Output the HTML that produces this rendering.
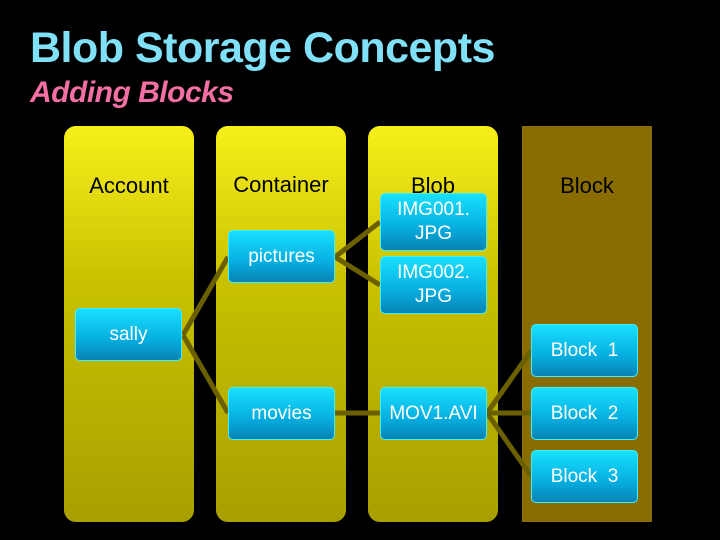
<!DOCTYPE html>
<html><head><style>
body{margin:0;width:720px;height:540px;background:#000;position:relative;overflow:hidden;font-family:"Liberation Sans",sans-serif}
.t1{position:absolute;left:30px;top:24px;font-size:43px;font-weight:bold;color:#7fe0f8;letter-spacing:-0.5px}
.t2{position:absolute;left:30px;top:76px;font-size:30px;font-weight:bold;font-style:italic;color:#f46fa4;letter-spacing:-0.5px}
.col{position:absolute;top:126px;width:130px;height:396px;border-radius:12px;background:linear-gradient(#f8f01a,#c8c000 40%,#a8a000)}
.blk{position:absolute;left:522px;top:126px;width:130px;height:396px;background:#8a6d00}
.h{position:absolute;width:130px;text-align:center;font-size:22px;color:#000}
.b{position:absolute;width:107px;height:53px;border-radius:5px;background:linear-gradient(#19e0ff,#06aee0 60%,#0683b4);border:1px solid #3cf0ff;box-sizing:border-box;color:#fff;font-family:"Liberation Sans",sans-serif;font-size:19px;display:flex;align-items:center;justify-content:center;text-align:center;line-height:24px}
svg{position:absolute;left:0;top:0}
</style></head><body>
<div class="t1">Blob Storage Concepts</div>
<div class="t2">Adding Blocks</div>
<div class="col" style="left:64px"></div>
<div class="col" style="left:216px"></div>
<div class="col" style="left:368px"></div>
<div class="blk"></div>
<div class="h" style="left:64px;top:173px">Account</div>
<div class="h" style="left:216px;top:172px">Container</div>
<div class="h" style="left:368px;top:173px">Blob</div>
<div class="h" style="left:522px;top:173px">Block</div>
<svg width="720" height="540"><g stroke="#6b6000" stroke-width="5" fill="none">
<path d="M183 335L228 257M183 335L228 413M335 257L380 222M335 257L380 285M335 413L380 413M487 413L531 351M487 413L531 413M487 413L531 476"/></g></svg>
<div class="b" style="left:75px;top:308px">sally</div>
<div class="b" style="left:228px;top:230px">pictures</div>
<div class="b" style="left:228px;top:387px">movies</div>
<div class="b" style="left:380px;top:193px;height:58px">IMG001.<br>JPG</div>
<div class="b" style="left:380px;top:256px;height:58px">IMG002.<br>JPG</div>
<div class="b" style="left:380px;top:387px">MOV1.AVI</div>
<div class="b" style="left:531px;top:324px">Block&nbsp; 1</div>
<div class="b" style="left:531px;top:387px">Block&nbsp; 2</div>
<div class="b" style="left:531px;top:450px">Block&nbsp; 3</div>
</body></html>
